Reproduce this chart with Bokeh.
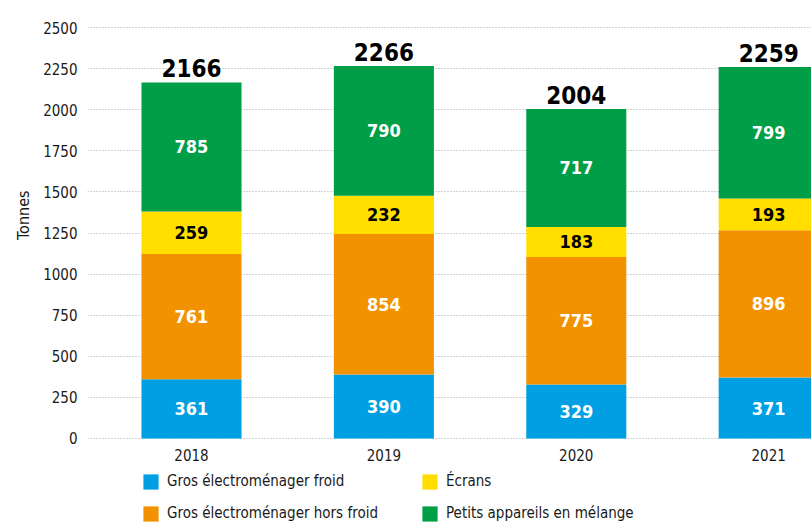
from bokeh.plotting import figure
from bokeh.models import ColumnDataSource, Range1d, FixedTicker, Legend, LegendItem, LabelSet, Title
from bokeh.core.properties import value
from bokeh.embed import file_html
from bokeh.resources import INLINE

years = ["2018", "2019", "2020", "2021"]
froid = [361, 390, 329, 371]
hors_froid = [761, 854, 775, 896]
ecrans = [259, 232, 183, 193]
petits = [785, 790, 717, 799]
series_names = ["Gros électroménager froid", "Gros électroménager hors froid", "Écrans", "Petits appareils en mélange"]
colors = ["#009FE3", "#F39200", "#FFDE00", "#009E47"]
label_colors = ["white", "white", "black", "white"]
y_ticks = [0, 250, 500, 750, 1000, 1250, 1500, 1750, 2000, 2250, 2500]

FONT = "DejaVu Sans Condensed"

xs = list(range(len(years)))
series = [froid, hors_froid, ecrans, petits]

p = figure(width=811, height=526, output_backend="svg", toolbar_location=None,
           x_range=Range1d(-0.5405, 3.2225), y_range=Range1d(-535.3, 2542.6),
           min_border_left=87, min_border_right=0, min_border_top=20, min_border_bottom=0)
p.outline_line_color = None
p.background_fill_color = "white"
p.border_fill_color = "white"

renderers = []
bottom = [0] * len(years)
for name, vals, col, lcol in zip(series_names, series, colors, label_colors):
    top = [b + v for b, v in zip(bottom, vals)]
    mid = [(b + t) / 2 for b, t in zip(bottom, top)]
    src = ColumnDataSource(dict(x=xs, bottom=bottom, top=top, mid=mid, val=[str(v) for v in vals]))
    r = p.vbar(x="x", bottom="bottom", top="top", width=0.52, source=src, fill_color=col, line_color=None)
    renderers.append(r)
    p.add_layout(LabelSet(x="x", y="mid", text="val", source=src, text_color=lcol,
                          text_font=value(FONT), text_font_style="bold", text_font_size="18px",
                          text_align="center", text_baseline="middle"))
    bottom = top

totals = bottom
tsrc = ColumnDataSource(dict(x=xs, y=totals, t=[str(v) for v in totals]))
p.add_layout(LabelSet(x="x", y="y", text="t", source=tsrc, text_color="black", y_offset=5,
                      text_font=value(FONT), text_font_style="bold", text_font_size="24px",
                      text_align="center", text_baseline="bottom"))

# year labels under the bars
ysrc = ColumnDataSource(dict(x=xs, y=[0] * len(xs), t=years))
p.add_layout(LabelSet(x="x", y="y", text="t", source=ysrc, text_color="#1a1a1a", y_offset=-11,
                      text_font=value(FONT), text_font_size="15px",
                      text_align="center", text_baseline="top"))

p.xaxis.visible = False
p.xgrid.grid_line_color = None
p.ygrid.ticker = FixedTicker(ticks=y_ticks)
p.ygrid.grid_line_color = "#a6a6a6"
p.ygrid.grid_line_dash = "1 2"
p.ygrid.grid_line_width = 1

p.yaxis.ticker = FixedTicker(ticks=y_ticks)
p.yaxis.axis_line_color = None
p.yaxis.major_tick_line_color = None
p.yaxis.minor_tick_line_color = None
p.yaxis.major_label_text_font = FONT
p.yaxis.major_label_text_font_size = "15px"
p.yaxis.major_label_text_color = "#1a1a1a"
p.yaxis.major_label_standoff = 4

ytitle = Title(text="Tonnes", align="right", offset=170, vertical_align="middle",
               text_font=FONT, text_font_size="16px", text_font_style="normal",
               text_color="#1a1a1a", standoff=14)
p.add_layout(ytitle, "left")

items = [LegendItem(label=n, renderers=[r]) for n, r in zip(series_names, renderers)]
legend = Legend(items=items, ncols=2, location=(54, 3), margin=0, padding=0,
                label_text_font=FONT, label_text_font_size="15px", label_text_color="#1a1a1a",
                glyph_width=19, glyph_height=19, label_height=20, label_width=241, spacing=12,
                label_standoff=7, border_line_color=None, background_fill_alpha=0)
p.add_layout(legend, "center")

open("out.html", "w").write(file_html(p, INLINE))
